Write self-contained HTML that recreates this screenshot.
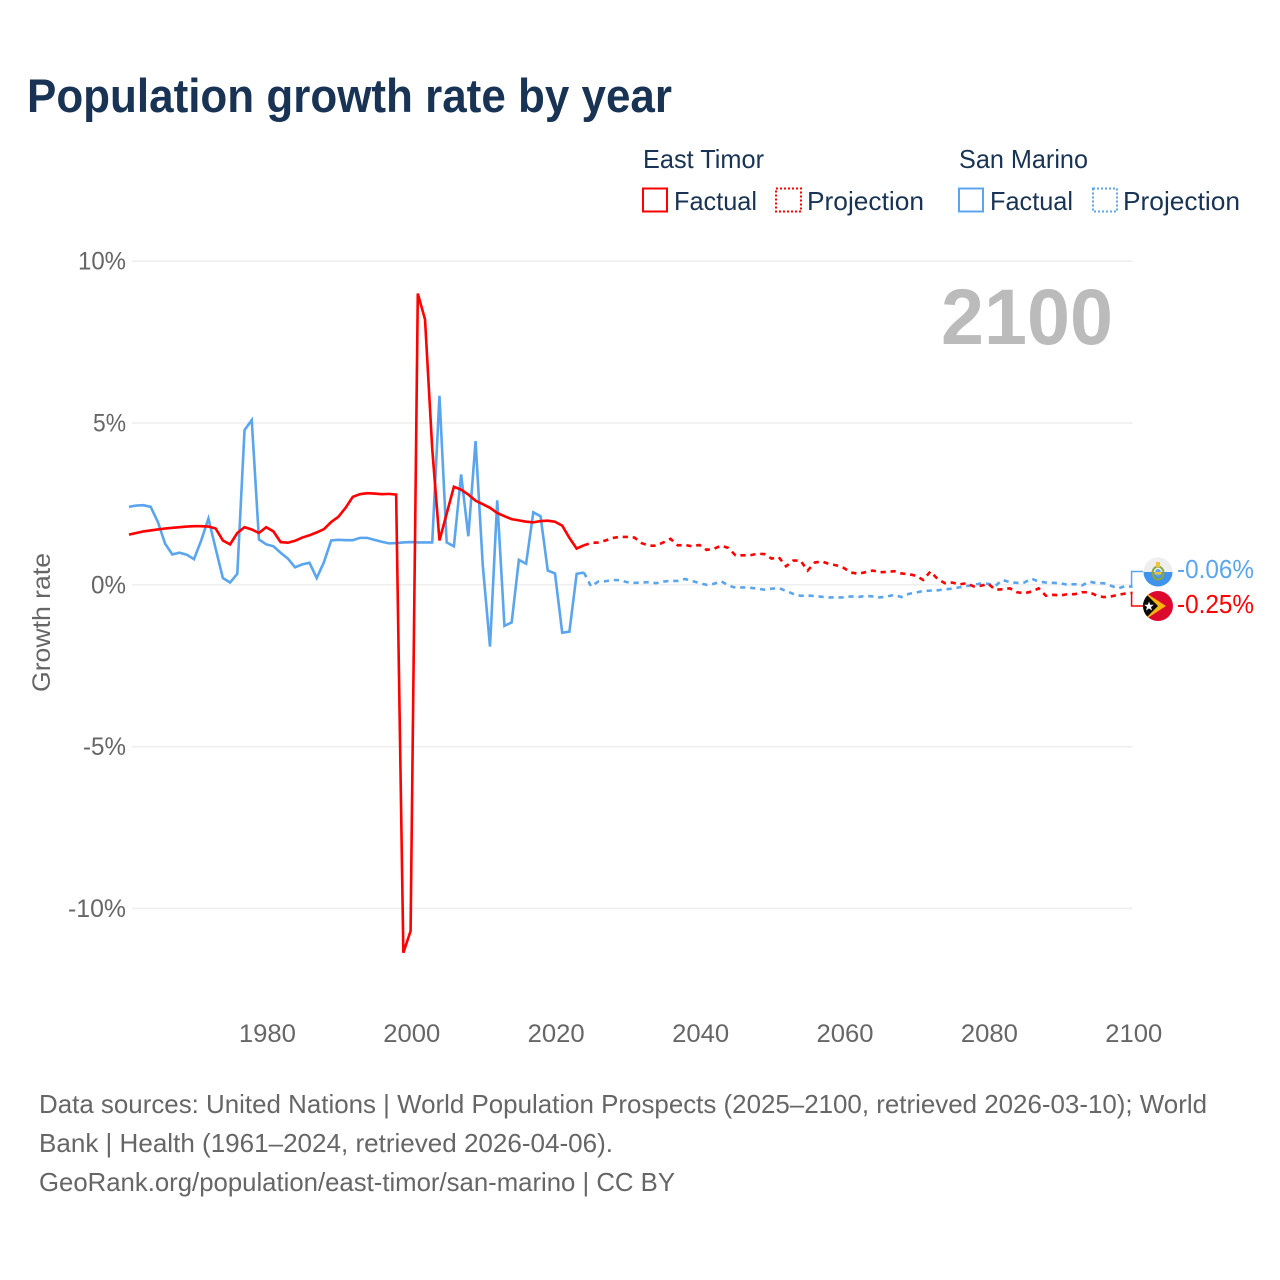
<!DOCTYPE html>
<html lang="en">
<head>
<meta charset="utf-8">
<title>Population growth rate by year</title>
<style>
html,body{margin:0;padding:0;background:#fff;}
svg{display:block;font-family:"Liberation Sans",sans-serif;}
</style>
</head>
<body>
<svg id="chart" xmlns="http://www.w3.org/2000/svg" width="1280" height="1280" viewBox="0 0 1280 1280">
  <rect x="0" y="0" width="1280" height="1280" fill="#fff"/>
  <text x="27" y="112" font-size="47" font-weight="700" fill="#183354" textLength="645" lengthAdjust="spacingAndGlyphs">Population growth rate by year</text>

  <g>
    <text x="643" y="168" font-size="26" fill="#183354" textLength="121" lengthAdjust="spacingAndGlyphs">East Timor</text>
    <text x="959" y="168" font-size="26" fill="#183354" textLength="129" lengthAdjust="spacingAndGlyphs">San Marino</text>
    <rect x="643" y="188.5" width="24" height="23" fill="none" stroke="#ff0000" stroke-width="2"/>
    <text x="674" y="210" font-size="26" fill="#183354" textLength="83" lengthAdjust="spacingAndGlyphs">Factual</text>
    <rect x="776" y="188.5" width="25" height="23" fill="none" stroke="#ff0000" stroke-width="2" stroke-dasharray="2 2"/>
    <text x="807" y="210" font-size="26" fill="#183354" textLength="117" lengthAdjust="spacingAndGlyphs">Projection</text>
    <rect x="959" y="188.5" width="24" height="23" fill="none" stroke="#5aa5ee" stroke-width="2"/>
    <text x="990" y="210" font-size="26" fill="#183354" textLength="83" lengthAdjust="spacingAndGlyphs">Factual</text>
    <rect x="1093" y="188.5" width="24" height="23" fill="none" stroke="#5aa5ee" stroke-width="2" stroke-dasharray="2 2"/>
    <text x="1123" y="210" font-size="26" fill="#183354" textLength="117" lengthAdjust="spacingAndGlyphs">Projection</text>
  </g>

  <g id="grid"></g>
  <g id="yticks"></g>
  <g id="xticks"></g>
  <text transform="translate(50,692) rotate(-90)" x="0" y="0" font-size="25" fill="#666" textLength="139" lengthAdjust="spacingAndGlyphs">Growth rate</text>
  <text x="941" y="344" font-size="79" font-weight="700" fill="#bbbbbb" textLength="172" lengthAdjust="spacingAndGlyphs">2100</text>

  <g id="series"></g>
  <g id="ends"></g>

  <defs>
    <clipPath id="clipSm"><circle cx="1158" cy="572" r="14.5"/></clipPath>
    <clipPath id="clipTl"><circle cx="1158" cy="606" r="15"/></clipPath>
  </defs>
  <g clip-path="url(#clipSm)">
    <rect x="1143" y="557" width="30" height="15" fill="#eeeeee"/>
    <rect x="1143" y="572" width="30" height="15" fill="#3f93ec"/>
    <ellipse cx="1158" cy="573" rx="5.5" ry="6.5" fill="none" stroke="#8ca83a" stroke-width="2"/>
    <ellipse cx="1158" cy="573" rx="3" ry="4" fill="#5aa5ee"/>
    <rect x="1156" y="562" width="4" height="5" fill="#f2c530"/>
    <rect x="1154.5" y="572" width="7" height="2.5" fill="#f2c530"/>
  </g>
  <g clip-path="url(#clipTl)">
    <rect x="1143" y="591" width="30" height="30" fill="#dc0a2d"/>
    <polygon points="1143,591 1166,606 1143,621" fill="#f7b512"/>
    <polygon points="1143,591 1158,606 1143,621" fill="#0a0a0a"/>
    <polygon points="1149,601.5 1150.2,604.8 1153.8,604.8 1151,607 1152,610.5 1149,608.4 1146,610.5 1147,607 1144.2,604.8 1147.8,604.8" fill="#fff"/>
  </g>
  <text x="1177" y="578" font-size="26" fill="#5aa5ee" textLength="77" lengthAdjust="spacingAndGlyphs">-0.06%</text>
  <text x="1177" y="613" font-size="26" fill="#ff0000" textLength="77" lengthAdjust="spacingAndGlyphs">-0.25%</text>

  <g font-size="26" fill="#666">
    <text x="39" y="1113" textLength="1168" lengthAdjust="spacingAndGlyphs">Data sources: United Nations | World Population Prospects (2025–2100, retrieved 2026-03-10); World</text>
    <text x="39" y="1152" textLength="574" lengthAdjust="spacingAndGlyphs">Bank | Health (1961–2024, retrieved 2026-04-06).</text>
    <text x="39" y="1191" textLength="636" lengthAdjust="spacingAndGlyphs">GeoRank.org/population/east-timor/san-marino | CC BY</text>
  </g>
</svg>
<script>
const factualStartYear = 1961;
const projectionStartYear = 2024;
const yTickValues = [10, 5, 0, -5, -10];
const yTickLabels = ["10%", "5%", "0%", "-5%", "-10%"];
const xTickValues = [1980, 2000, 2020, 2040, 2060, 2080, 2100];
const xTickLabels = ["1980", "2000", "2020", "2040", "2060", "2080", "2100"];

const eastTimorFactual = [
  1.55,1.60,1.65,1.68,1.71,1.74,1.76,1.78,1.80,1.81,
  1.81,1.80,1.74,1.37,1.25,1.60,1.78,1.71,1.60,1.78,
  1.65,1.32,1.30,1.36,1.46,1.53,1.62,1.72,1.94,2.10,
  2.38,2.72,2.80,2.83,2.82,2.80,2.81,2.79,-11.37,-10.7,
  9.0,8.2,4.2,1.37,2.2,3.03,2.94,2.79,2.60,2.49,
  2.38,2.22,2.12,2.03,1.99,1.95,1.93,1.97,1.98,1.95,
  1.83,1.45,1.12,1.22
];
const eastTimorProjection = [
  1.22,1.29,1.31,1.37,1.45,1.48,1.48,1.46,1.29,1.21,
  1.21,1.31,1.42,1.22,1.23,1.19,1.23,1.08,1.11,1.21,
  1.14,0.91,0.91,0.91,0.96,0.95,0.81,0.85,0.57,0.75,
  0.75,0.44,0.69,0.72,0.64,0.60,0.52,0.38,0.34,0.39,
  0.44,0.39,0.40,0.42,0.35,0.33,0.28,0.15,0.41,0.18,
  0.05,0.07,0.01,0.05,-0.05,-0.03,0.03,-0.15,-0.14,-0.11,
  -0.23,-0.26,-0.21,-0.11,-0.34,-0.31,-0.33,-0.29,-0.29,-0.23,
  -0.23,-0.33,-0.38,-0.36,-0.31,-0.27,-0.25
];
const sanMarinoFactual = [
  2.41,2.45,2.46,2.41,1.94,1.27,0.94,0.99,0.93,0.79,
  1.37,2.05,1.12,0.21,0.07,0.34,4.78,5.09,1.40,1.25,
  1.19,0.99,0.81,0.54,0.63,0.68,0.21,0.70,1.37,1.39,
  1.38,1.38,1.45,1.45,1.39,1.33,1.28,1.29,1.31,1.32,
  1.31,1.31,1.31,5.84,1.31,1.19,3.41,1.50,4.44,0.60,
  -1.91,2.61,-1.27,-1.16,0.77,0.65,2.24,2.12,0.44,0.35,
  -1.48,-1.45,0.34,0.38
];
const sanMarinoProjection = [
  0.38,-0.05,0.10,0.11,0.15,0.14,0.08,0.06,0.07,0.08,
  0.05,0.10,0.12,0.12,0.18,0.12,0.05,0.00,0.03,0.11,
  -0.02,-0.09,-0.08,-0.09,-0.12,-0.15,-0.12,-0.10,-0.19,-0.28,
  -0.34,-0.33,-0.35,-0.37,-0.39,-0.39,-0.39,-0.36,-0.38,-0.34,
  -0.36,-0.39,-0.36,-0.31,-0.38,-0.28,-0.24,-0.19,-0.18,-0.17,
  -0.14,-0.12,-0.08,-0.04,0.00,0.04,0.03,-0.03,0.15,0.08,
  0.06,0.07,0.19,0.10,0.07,0.06,0.05,0.00,0.02,-0.02,
  0.10,0.05,0.05,-0.03,-0.11,-0.04,-0.06
];

const SVG_NS = "http://www.w3.org/2000/svg";
function xScale(year) { return 129 + (year - 1961) * 7.22; }
function yScale(value) { return 584.8 - value * 32.36; }

function makeEl(tag, attrs, parent) {
  const el = document.createElementNS(SVG_NS, tag);
  for (const k in attrs) el.setAttribute(k, attrs[k]);
  parent.appendChild(el);
  return el;
}
function linePath(values, startYear) {
  return values.map(function (v, i) {
    return (i ? "L" : "M") + xScale(startYear + i).toFixed(2) + " " + yScale(v).toFixed(2);
  }).join(" ");
}

const gridGroup = document.getElementById("grid");
const yTickGroup = document.getElementById("yticks");
const xTickGroup = document.getElementById("xticks");
const yWidths = [48, 33, 35, 43, 58];

yTickValues.forEach(function (v, i) {
  const line = makeEl("line", { x1: 132, x2: xScale(2100), y1: yScale(v), y2: yScale(v), stroke: "#eeeeee", "stroke-width": 1.5 }, gridGroup);
  
  
  const t = makeEl("text", { x: 126, y: yScale(v) + 8.5, "text-anchor": "end", "font-size": 25, fill: "#666", textLength: yWidths[i], lengthAdjust: "spacingAndGlyphs" }, yTickGroup);
  
  
  t.textContent = yTickLabels[i];
});
xTickValues.forEach(function (v, i) {
  const t = makeEl("text", { x: xScale(v) + 1.2, y: 1042, "text-anchor": "middle", "font-size": 25, fill: "#666", textLength: 57, lengthAdjust: "spacingAndGlyphs" }, xTickGroup);
  
  
  t.textContent = xTickLabels[i];
});

const seriesGroup = document.getElementById("series");
const dash = "5.2 4.8";
const lineWidth = 2.6;

const smFactualPath = makeEl("path", { d: linePath(sanMarinoFactual, factualStartYear), fill: "none", stroke: "#5aa5ee", "stroke-width": lineWidth, "stroke-linejoin": "miter" }, seriesGroup);



const smProjectionPath = makeEl("path", { d: linePath(sanMarinoProjection, projectionStartYear), fill: "none", stroke: "#5aa5ee", "stroke-width": lineWidth, "stroke-dasharray": dash }, seriesGroup);



const etFactualPath = makeEl("path", { d: linePath(eastTimorFactual, factualStartYear), fill: "none", stroke: "#ff0000", "stroke-width": lineWidth, "stroke-linejoin": "miter" }, seriesGroup);



const etProjectionPath = makeEl("path", { d: linePath(eastTimorProjection, projectionStartYear), fill: "none", stroke: "#ff0000", "stroke-width": lineWidth, "stroke-dasharray": dash }, seriesGroup);



const endsGroup = document.getElementById("ends");
const xEnd = xScale(2100);
const smLast = sanMarinoProjection[sanMarinoProjection.length - 1];
const etLast = eastTimorProjection[eastTimorProjection.length - 1];
const smConnector = makeEl("path", { d: "M" + (xEnd - 1) + " " + yScale(smLast) + " V571.5 H1143", fill: "none", stroke: "#5aa5ee", "stroke-width": 1.5 }, endsGroup);


const etConnector = makeEl("path", { d: "M" + (xEnd - 1) + " " + yScale(etLast) + " V606 H1143", fill: "none", stroke: "#ff0000", "stroke-width": 1.5 }, endsGroup);


</script>
</body>
</html>
